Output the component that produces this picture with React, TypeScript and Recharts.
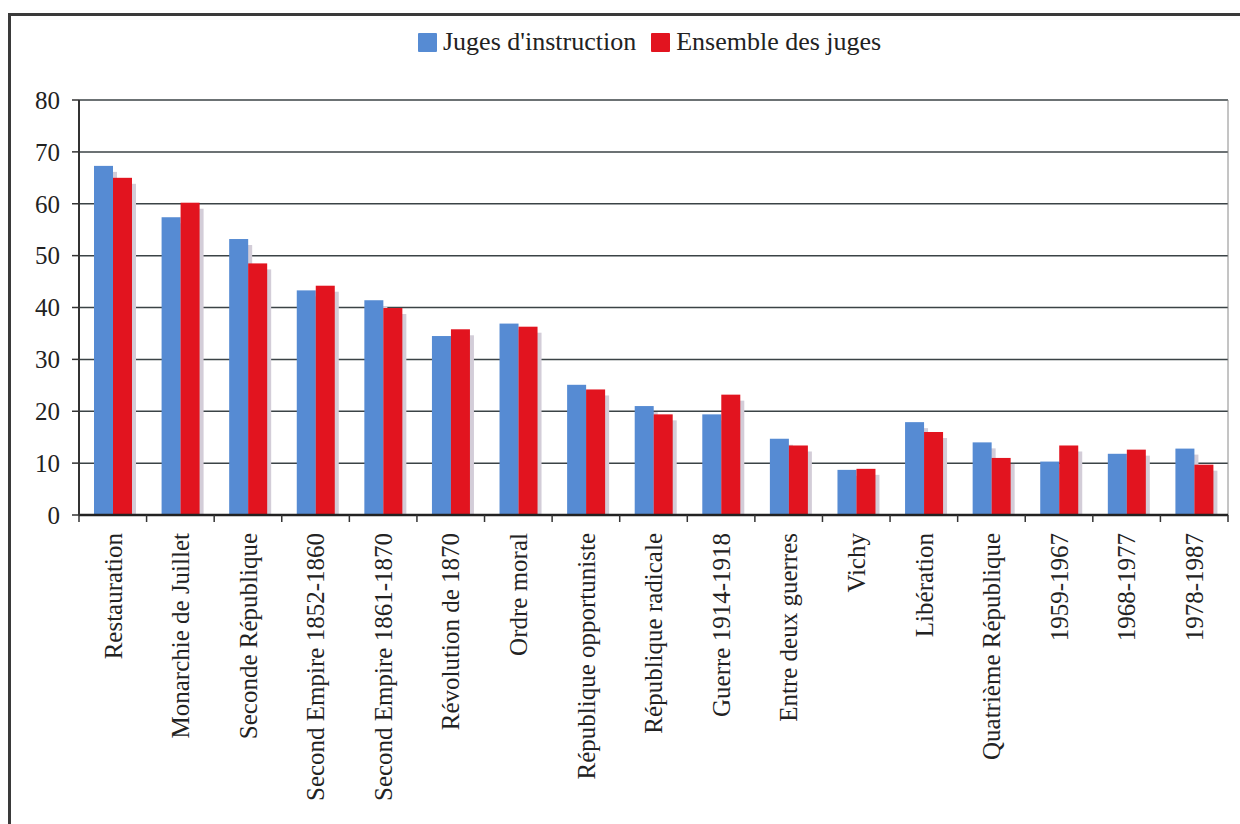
import { BarChart, Bar, XAxis, YAxis, CartesianGrid, Legend } from 'recharts';

const periodes = [
  'Restauration',
  'Monarchie de Juillet',
  'Seconde République',
  'Second Empire 1852-1860',
  'Second Empire 1861-1870',
  'Révolution de 1870',
  'Ordre moral',
  'République opportuniste',
  'République radicale',
  'Guerre 1914-1918',
  'Entre deux guerres',
  'Vichy',
  'Libération',
  'Quatrième République',
  '1959-1967',
  '1968-1977',
  '1978-1987',
];

const jugesInstruction = [67.3, 57.4, 53.2, 43.3, 41.4, 34.5, 36.9, 25.1, 21.0, 19.4, 14.7, 8.7, 17.9, 14.0, 10.3, 11.8, 12.8];
const ensembleJuges = [65.0, 60.2, 48.5, 44.2, 39.9, 35.8, 36.3, 24.2, 19.4, 23.2, 13.4, 8.9, 16.0, 11.0, 13.4, 12.6, 9.7];

const yTicks = [0, 10, 20, 30, 40, 50, 60, 70, 80];

const BLUE = '#568bd3';
const RED = '#e2141f';
const FONT = '"Liberation Serif", "Times New Roman", serif';

const data = periodes.map((p, i) => ({
  periode: p,
  instruction: jugesInstruction[i],
  ensemble: ensembleJuges[i],
}));

// bar with the little grey drop shadow on its right side
function ShadowBar(props: any) {
  const { x, y, width, height, fill } = props;
  if (!height || height <= 0) return null;
  return (
    <g>
      <rect x={x + 4} y={y + 6} width={width} height={Math.max(height - 6, 0)} fill="#d3cdd8" />
      <rect x={x} y={y} width={width} height={height} fill={fill} />
    </g>
  );
}

// rotated label + tick marks on the category boundaries
function PeriodTick(props: any) {
  const { x, y, payload, index, visibleTicksCount } = props;
  const half = payload?.offset ?? 0;
  const last = index === visibleTicksCount - 1;
  return (
    <g>
      <line x1={x - half} x2={x - half} y1={y} y2={y + 7} stroke="#333" strokeWidth={1.5} />
      {last && <line x1={x + half} x2={x + half} y1={y} y2={y + 7} stroke="#333" strokeWidth={1.5} />}
      <text
        x={x}
        y={y + 18}
        dy="0.35em"
        transform={`rotate(-90, ${x}, ${y + 18})`}
        textAnchor="end"
        fontSize={25}
        fontFamily={FONT}
        fill="#222"
      >
        {payload.value}
      </text>
    </g>
  );
}

function ValueTick(props: any) {
  const { x, y, payload } = props;
  return (
    <text x={x} y={y} dy="0.35em" textAnchor="end" fontSize={25} fontFamily={FONT} fill="#222">
      {payload.value}
    </text>
  );
}

function LegendContent() {
  const items = [
    { label: "Juges d'instruction", color: BLUE },
    { label: 'Ensemble des juges', color: RED },
  ];
  return (
    <div style={{ display: 'flex', alignItems: 'center', fontFamily: FONT, fontSize: 26, color: '#222', whiteSpace: 'nowrap' }}>
      {items.map((it, i) => (
        <span key={it.label} style={{ display: 'flex', alignItems: 'center', marginLeft: i ? 15 : 0 }}>
          <span style={{ display: 'inline-block', width: 19, height: 19, background: it.color, marginRight: 6, borderRadius: 1 }} />
          {it.label}
        </span>
      ))}
    </div>
  );
}

export default function App() {
  return (
    <div style={{ position: 'fixed', left: 0, top: 0, width: 1240, height: 824, background: '#fff', overflow: 'hidden' }}>
      <div
        style={{
          position: 'absolute',
          left: 8,
          top: 13,
          width: 1300,
          height: 900,
          borderLeft: '3px solid #3a3a3a',
          borderTop: '3px solid #3a3a3a',
        }}
      />
      <div style={{ position: 'absolute', left: 0, top: 0 }}>
        <BarChart
          width={1240}
          height={824}
          data={data}
          margin={{ top: 100, right: 12, bottom: 0, left: 0 }}
          barGap={0}
          barSize={19}
        >
          <CartesianGrid vertical={false} stroke="#3b4346" strokeWidth={1.5} />
          <CartesianGrid
            horizontal={false}
            stroke="#8a8a8a"
            strokeWidth={1}
            verticalCoordinatesGenerator={({ offset }: any) => [offset.left + offset.width]}
          />
          <XAxis
            dataKey="periode"
            interval={0}
            height={309}
            tickLine={false}
            tickSize={0}
            tickMargin={0}
            axisLine={{ stroke: '#222', strokeWidth: 2.5 }}
            tick={<PeriodTick />}
          />
          <YAxis
            domain={[0, 80]}
            ticks={yTicks}
            width={79}
            tickSize={7}
            tickMargin={12}
            axisLine={{ stroke: '#333', strokeWidth: 2 }}
            tickLine={{ stroke: '#333', strokeWidth: 1.5 }}
            tick={<ValueTick />}
          />
          <Legend
            verticalAlign="middle"
            align="center"
            content={<LegendContent />}
            wrapperStyle={{ top: 27, left: 418, width: 'auto' }}
          />
          <Bar dataKey="instruction" name="Juges d'instruction" fill={BLUE} shape={<ShadowBar />} isAnimationActive={false} />
          <Bar dataKey="ensemble" name="Ensemble des juges" fill={RED} shape={<ShadowBar />} isAnimationActive={false} />
        </BarChart>
      </div>
    </div>
  );
}
